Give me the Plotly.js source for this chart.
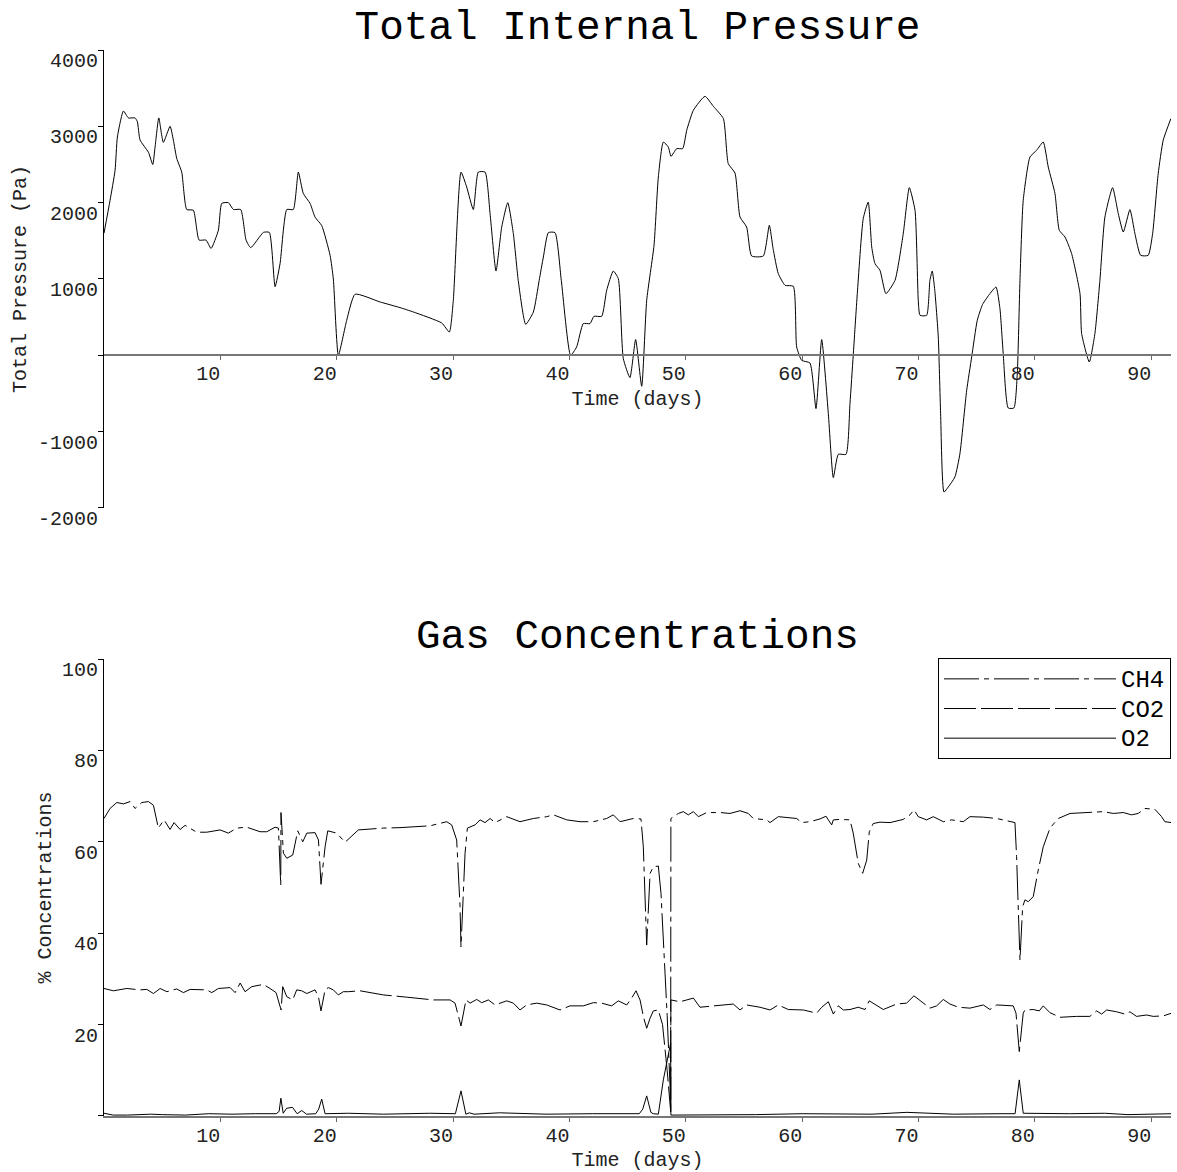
<!DOCTYPE html>
<html>
<head>
<meta charset="utf-8">
<script src="https://cdn.plot.ly/plotly-3.0.1.min.js"></script>
<style>
  html, body { margin: 0; padding: 0; background: #fff; }
  #chart { width: 1177px; height: 1172px; }
</style>
</head>
<body>
<div id="chart"></div>
<script>
// Total internal pressure (Pa) against time (days)
const pressureDays = [
  0.0, 0.52, 0.95, 1.15, 1.67, 2.1, 2.67, 2.87, 3.1, 3.82, 4.19, 4.39, 4.71, 5.1, 5.68, 5.96,
  6.25, 6.68, 7.11, 7.68, 8.17, 8.77, 9.2, 9.83, 10.12, 10.69, 11.12, 11.75, 12.21, 12.61,
  13.7, 14.21, 14.7, 15.13, 15.71, 16.27, 16.7, 17.13, 17.71, 18.14, 18.71, 19.43, 19.71,
  20.14, 20.86, 21.58, 23.7, 25.44, 26.6, 29.03, 29.68, 30.02, 30.68, 31.17, 31.74, 32.17,
  32.75, 33.18, 33.69, 34.18, 34.7, 35.18, 35.6, 36.24, 36.9, 37.4, 37.76, 38.19, 38.76,
  39.3, 40.1, 40.62, 41.19, 41.77, 42.11, 42.77, 43.2, 43.77, 44.2, 44.63, 45.2, 45.69,
  46.21, 46.64, 47.27, 47.64, 48.07, 48.5, 48.73, 49.22, 49.73, 50.08, 50.65, 51.65, 52.37,
  53.23, 53.65, 54.23, 54.66, 55.23, 55.66, 56.66, 57.18, 57.5, 57.95, 58.53, 59.24, 59.53,
  59.96, 60.67, 61.19, 61.68, 62.25, 62.68, 63.11, 63.77, 64.11, 64.39, 64.74, 65.25, 65.68,
  65.98, 66.26, 66.69, 67.2, 67.98, 68.69, 69.21, 69.7, 69.98, 70.13, 70.7, 70.98, 71.18,
  71.4, 71.7, 71.9, 72.19, 72.56, 73.13, 73.56, 74.14, 74.57, 75.05, 75.51, 76.14, 76.66,
  77.0, 77.28, 77.71, 78.2, 78.49, 78.72, 79.0, 79.58, 80.15, 80.72, 81.15, 81.73, 82.1,
  82.59, 83.16, 83.88, 84.02, 84.68, 85.16, 85.59, 86.02, 86.68, 87.17, 87.6, 88.17, 88.6,
  89.09, 89.74, 90.12, 90.6, 91.03, 91.69
];
const pressurePa = [
  1600, 2030, 2420, 2860, 3200, 3110, 3110, 3060, 2820, 2660, 2500, 2730, 3110, 2790, 3000, 2820,
  2580, 2400, 1910, 1900, 1510, 1510, 1400, 1640, 1990, 2000, 1910, 1910, 1510, 1410,
  1610, 1610, 900, 1200, 1910, 1910, 2400, 2120, 1990, 1810, 1700, 1310, 1000,
  0, 460, 800, 700, 625, 567, 423, 305, 720, 2400, 2205, 1910, 2400,
  2400, 1856, 1104, 1680, 2000, 1594, 982, 406, 567, 982, 1288, 1607, 1607,
  982, 0, 109, 415, 415, 511, 511, 851, 1104, 1004, -43, -292, 206,
  -406, 720, 1441, 2336, 2794, 2729, 2607, 2708, 2708, 2948, 3210, 3393, 3262,
  3101, 2511, 2388, 1812, 1681, 1301, 1301, 1703, 1400, 1070, 917, 904, 109,
  -66, -101, -698, 206, -764, -1602, -1297, -1297, -633, 0, 808, 1791, 2008,
  1419, 1201, 1113, 808, 982, 1594, 2197, 1900, 720, 524, 524, 982, 1104,
  851, 240, -764, -1791, -1725, -1594, -1288, -459, -22, 458, 668, 808, 895,
  612, 22, -690, -690, -240, 982, 2031, 2598, 2686, 2794, 2467, 2118, 1638,
  1550, 1332, 808, 284, -88, 284, 982, 1812, 2197, 1856, 1615, 1909, 1594,
  1310, 1310, 1594, 2380, 2817, 3101
];

// Methane concentration (%)
const ch4Days = [
  0.0, 0.52, 1.1, 1.67, 2.24, 2.67, 3.25, 3.82, 4.25, 4.67, 5.16, 5.68, 6.02, 6.54, 6.97, 7.4,
  7.97, 8.83, 9.98, 10.69, 11.41, 12.27, 13.41, 13.99, 14.7, 14.99, 15.19, 15.21, 15.42, 15.71,
  16.22, 16.65, 17.08, 17.43, 18.14, 18.43, 18.65, 19.0, 19.23, 20.0, 20.72, 21.86, 24.0, 25.44,
  28.02, 29.45, 29.88, 30.31, 30.6, 30.68, 31.03, 31.23, 31.89, 32.32, 32.75, 33.18, 33.61,
  34.61, 35.75, 36.9, 38.05, 38.62, 39.77, 40.91, 42.06, 43.2, 43.77, 44.35, 45.49, 46.15,
  46.35, 46.64, 46.93, 47.21, 47.64, 47.87, 48.07, 48.4, 48.64, 48.7, 48.72, 49.36, 49.79,
  50.22, 50.65, 51.08, 51.8, 52.94, 53.8, 54.66, 55.37, 55.8, 56.95, 57.24, 57.95, 58.38,
  59.53, 59.96, 60.67, 61.53, 62.05, 62.25, 62.54, 62.68, 63.25, 64.11, 64.39, 64.82, 65.2,
  65.55, 65.77, 66.11, 66.69, 67.55, 68.69, 69.27, 69.61, 69.98, 70.7, 71.27, 72.13, 72.85,
  73.85, 74.42, 75.57, 76.72, 77.86, 78.29, 78.43, 78.66, 78.72, 78.95, 79.15, 79.43, 79.86,
  80.29, 80.72, 81.3, 82.01, 83.02, 84.45, 85.88, 86.74, 87.6, 88.31, 88.88, 89.46, 90.32,
  90.89, 91.17, 91.75
];
const ch4Pct = [
  65.1, 67.3, 68.6, 68.3, 68.8, 67.3, 68.6, 68.8, 68.0, 63.0, 64.8, 62.7, 64.2, 62.7, 63.6, 63.0,
  62.1, 62.1, 62.6, 61.9, 63.0, 63.2, 62.2, 62.2, 63.2, 63.0, 50.5, 66.4, 57.5, 56.4,
  57.1, 62.4, 60.0, 61.9, 62.0, 60.4, 50.7, 58.9, 62.4, 61.9, 59.9, 62.6, 63.0, 63.1,
  63.5, 64.4, 63.7, 60.4, 45.8, 37.0, 57.5, 63.0, 63.7, 64.8, 64.2, 65.1, 64.2,
  65.5, 64.4, 65.1, 65.5, 65.9, 64.8, 64.4, 64.4, 65.1, 65.9, 64.4, 65.1, 65.0,
  58.9, 37.4, 53.1, 54.5, 54.7, 48.7, 39.3, 22.0, 7.0, 0.8, 65.1, 66.2, 66.6,
  65.9, 66.6, 65.5, 66.4, 66.4, 66.2, 66.8, 66.2, 65.1, 64.8, 64.2, 65.5, 65.4,
  65.1, 64.2, 64.4, 65.0, 65.6, 64.8, 63.7, 64.8, 64.9, 64.8, 61.9, 55.3, 53.1,
  56.0, 62.2, 64.0, 64.3, 64.2, 64.9, 65.9, 67.0, 65.5, 64.8, 65.5, 64.4, 64.8,
  64.4, 65.5, 65.4, 65.1, 64.4, 64.2, 56.8, 40.7, 34.1, 45.8, 47.3, 46.9, 48.0,
  53.8, 58.9, 63.0, 65.1, 66.2, 66.4, 66.6, 66.2, 66.4, 65.9, 66.2, 67.3, 67.1,
  65.5, 64.4, 64.2
];

// Carbon dioxide concentration (%)
const co2Days = [
  0.0, 0.81, 1.96, 3.1, 3.68, 4.25, 4.82, 5.4, 6.25, 6.82, 7.4, 8.26, 8.83, 9.26, 9.83, 10.84,
  11.27, 11.7, 12.12, 12.7, 13.7, 14.27, 14.79, 15.22, 15.36, 15.71, 16.22, 16.56, 16.99, 17.43,
  18.14, 18.43, 18.65, 19.0, 19.28, 19.71, 20.14, 20.57, 21.0, 22.0, 24.0, 26.02, 28.3, 29.74,
  30.17, 30.68, 31.11, 31.46, 32.03, 32.46, 33.03, 33.61, 34.61, 35.18, 35.75, 36.33, 37.19,
  38.05, 39.19, 40.05, 41.19, 42.06, 42.77, 43.63, 44.2, 44.92, 45.35, 45.72, 46.07, 46.35,
  46.64, 46.93, 47.21, 47.64, 48.0, 48.4, 48.7, 48.72, 49.5, 50.08, 50.65, 51.22, 52.37, 54.08,
  54.66, 55.23, 56.38, 57.24, 57.95, 58.81, 60.1, 61.25, 61.68, 62.25, 62.68, 63.11, 63.54,
  64.11, 64.82, 65.4, 65.77, 66.4, 66.97, 68.12, 68.98, 69.61, 70.27, 70.98, 71.56, 72.13,
  72.7, 73.42, 74.42, 75.57, 76.14, 76.72, 78.14, 78.38, 78.66, 79.0, 79.15, 79.86, 80.38,
  80.72, 81.3, 82.16, 83.59, 84.73, 85.31, 85.74, 86.17, 87.03, 87.74, 88.17, 88.74, 89.6,
  90.17, 91.03, 91.75
];
const co2Pct = [
  27.9, 27.4, 27.9, 27.6, 27.7, 26.8, 27.9, 27.2, 27.8, 27.0, 27.7, 27.6, 27.6, 27.0, 27.9, 28.1,
  27.0, 29.1, 27.2, 28.3, 28.8, 27.9, 27.0, 23.2, 28.3, 26.1, 25.4, 27.6, 27.4, 26.8,
  27.6, 26.1, 23.0, 27.6, 28.1, 27.6, 26.5, 27.2, 27.2, 27.4, 26.5, 26.0, 25.4, 25.4,
  24.7, 19.7, 25.4, 24.7, 25.5, 24.8, 25.4, 24.3, 25.2, 24.7, 23.2, 24.3, 24.7,
  24.3, 23.2, 24.1, 24.1, 24.8, 24.7, 24.1, 25.2, 24.3, 25.8, 27.4, 25.4, 21.8,
  19.2, 21.4, 23.0, 23.2, 20.0, 10.0, 1.0, 25.4, 25.0, 25.4, 25.8, 23.8, 24.1, 24.5,
  23.2, 24.3, 23.8, 23.2, 24.3, 23.3, 23.2, 22.5, 23.8, 25.0, 22.3, 24.1, 23.2,
  23.3, 23.8, 23.3, 25.2, 24.3, 23.3, 24.5, 24.7, 26.3, 25.0, 23.6, 24.1, 25.5,
  24.5, 23.8, 23.6, 24.3, 23.3, 24.3, 24.1, 22.5, 14.1, 22.5, 23.2, 23.3, 23.0,
  24.1, 22.6, 21.6, 21.8, 21.8, 23.0, 22.3, 23.2, 22.8, 22.3, 22.8, 21.8, 22.1,
  21.8, 21.9, 22.5
];

// Oxygen concentration (%)
const o2Days = [
  0.0, 0.8, 2.0, 4.0, 5.0, 7.0, 9.0, 11.0, 13.0, 14.8, 15.05, 15.2, 15.4, 15.7, 16.2, 16.6,
  17.0, 17.4, 18.2, 18.45, 18.71, 19.0, 21.0, 24.0, 28.0, 30.2, 30.68, 31.1, 31.4, 31.8,
  34.0, 38.0, 42.0, 46.0, 46.3, 46.64, 47.0, 47.2, 47.64, 48.07, 48.64, 48.7, 48.72, 52.0,
  56.0, 60.0, 66.0, 69.0, 70.5, 73.0, 77.0, 78.3, 78.66, 79.0, 83.0, 86.0, 88.0, 91.75
];
const o2Pct = [
  0.6, 0.2, 0.2, 0.4, 0.3, 0.2, 0.5, 0.4, 0.5, 0.5, 1.0, 3.9, 0.6, 1.7, 1.9, 0.5,
  1.2, 0.4, 0.5, 1.5, 3.7, 0.5, 0.6, 0.4, 0.6, 0.5, 5.5, 0.4, 0.7, 0.4,
  0.7, 0.4, 0.5, 0.5, 1.5, 4.4, 0.8, 0.5, 0.4, 7.9, 15.2, 16.0, 0.2, 0.2,
  0.3, 0.5, 0.4, 0.8, 0.7, 0.4, 0.5, 0.5, 7.9, 0.6, 0.5, 0.6, 0.3, 0.5
];

// Axis tick values and labels
const timeTicks = [10, 20, 30, 40, 50, 60, 70, 80, 90];
const pressureTicks = [-2000, -1000, 0, 1000, 2000, 3000, 4000];
const pressureTickText = ['-2000', '-1000', '', '1000', '2000', '3000', '4000'];
const concTicks = [0, 20, 40, 60, 80, 100];
const concTickText = ['', '20', '40', '60', '80', '100'];
const seriesNames = ['CH4', 'CO2', 'O2'];

const FONT = '"Liberation Mono", "Courier New", monospace';
const INK = '#000';

// plot-area geometry (paper fractions)
const topDomain = [0.5704, 1.0];
const botDomain = [0.0, 0.4287];
const pRange = [-2000, 4000];
const cRange = [0, 100];
const zeroPos = topDomain[0] + (0 - pRange[0]) / (pRange[1] - pRange[0]) * (topDomain[1] - topDomain[0]);

// legend entries: slightly larger glyphs than the row spacing implies
const legendName = n => '<span style="font-size:24px">' + n + '</span>';

const traces = [
  {
    x: pressureDays, y: pressurePa, type: 'scatter', mode: 'lines',
    line: { color: INK, width: 1, shape: 'spline', smoothing: 0.5 },
    xaxis: 'x', yaxis: 'y', showlegend: false, hoverinfo: 'skip'
  },
  {
    x: ch4Days, y: ch4Pct, type: 'scatter', mode: 'lines', name: legendName(seriesNames[0]),
    line: { color: INK, width: 1, dash: '35px,5px,5px,5px' }, xaxis: 'x2', yaxis: 'y2'
  },
  {
    x: co2Days, y: co2Pct, type: 'scatter', mode: 'lines', name: legendName(seriesNames[1]),
    line: { color: INK, width: 1, dash: '32px,5px' }, xaxis: 'x2', yaxis: 'y2'
  },
  {
    x: o2Days, y: o2Pct, type: 'scatter', mode: 'lines', name: legendName(seriesNames[2]),
    line: { color: INK, width: 1 }, xaxis: 'x2', yaxis: 'y2'
  }
];

const tickFont = { family: FONT, size: 20, color: '#222' };
const axisTitleFont = { family: FONT, size: 20, color: '#222' };

function timeAxis(extra, standoff) {
  return Object.assign({
    range: [0, 91.7], domain: [0, 1],
    tickvals: timeTicks, ticktext: timeTicks.map(String),
    ticks: 'outside', ticklen: 4, tickwidth: 1, tickcolor: '#666',
    showline: true, linecolor: '#777', linewidth: 2,
    showgrid: false, zeroline: false,
    tickfont: tickFont, ticklabelshift: -12, ticklabelstandoff: -4,
    title: { text: 'Time (days)', font: axisTitleFont, standoff: standoff }
  }, extra);
}

function valueAxis(extra) {
  return Object.assign({
    ticks: 'outside', ticklen: 5, tickwidth: 1, tickcolor: INK,
    showline: true, linecolor: INK, linewidth: 1,
    showgrid: false, zeroline: false,
    tickfont: tickFont, ticklabelshift: 10, ticklabelstandoff: -4
  }, extra);
}

const layout = {
  width: 1177, height: 1172,
  margin: { l: 104, r: 6, t: 50, b: 56 },
  paper_bgcolor: '#fff', plot_bgcolor: '#fff',
  font: { family: FONT, color: INK },
  title: {
    text: 'Total Internal Pressure',
    font: { family: FONT, size: 41, color: INK },
    x: 0.5, xref: 'paper', xanchor: 'center',
    y: 1 - 25 / 1172, yref: 'container', yanchor: 'middle'
  },
  xaxis: timeAxis({ anchor: 'free', position: zeroPos }, 5),
  yaxis: valueAxis({
    domain: topDomain, range: pRange, anchor: 'x',
    tickvals: pressureTicks, ticktext: pressureTickText,
    title: { text: 'Total Pressure (Pa)', font: axisTitleFont, standoff: 5 }
  }),
  xaxis2: timeAxis({ anchor: 'y2' }, 14),
  yaxis2: valueAxis({
    domain: botDomain, range: cRange, anchor: 'x2',
    tickvals: concTicks, ticktext: concTickText,
    title: { text: '% Concentrations', font: axisTitleFont, standoff: 4 }
  }),
  annotations: [{
    text: 'Gas Concentrations', xref: 'paper', yref: 'paper',
    x: 0.5, y: 0.4493, xanchor: 'center', yanchor: 'middle', showarrow: false,
    font: { family: FONT, size: 41, color: INK }
  }],
  showlegend: true,
  legend: {
    x: 1, xanchor: 'right', y: 0.4296, yanchor: 'top',
    bgcolor: '#fff', bordercolor: INK, borderwidth: 1,
    font: { family: FONT, size: 20.5, color: INK },
    itemwidth: 172, tracegroupgap: 0
  }
};

Plotly.newPlot('chart', traces, layout, { staticPlot: true, displayModeBar: false });
</script>
</body>
</html>
